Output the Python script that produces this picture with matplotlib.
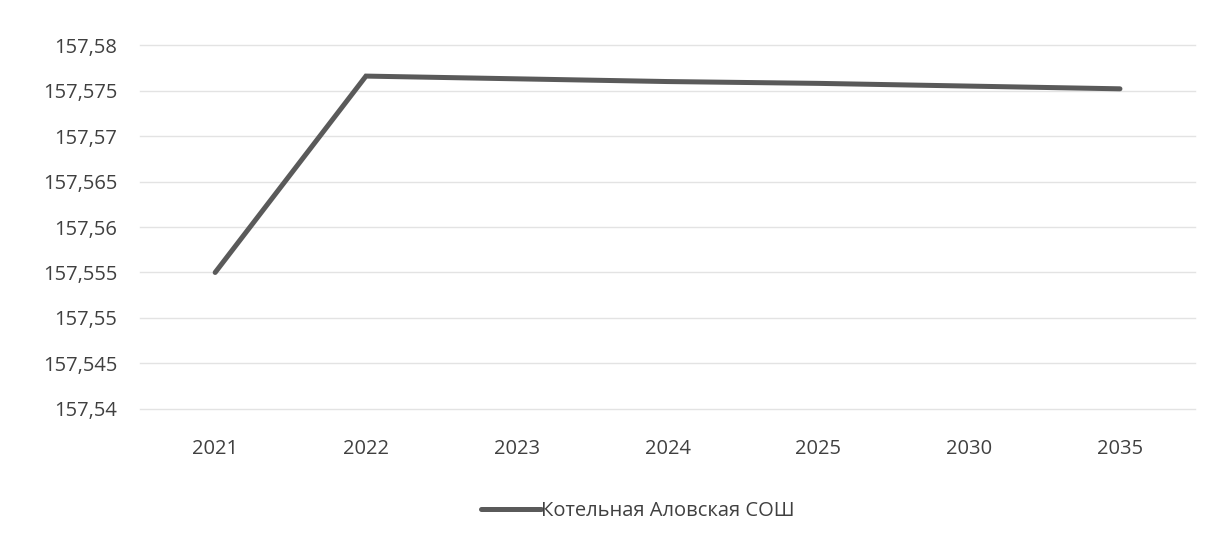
import matplotlib
matplotlib.use("Agg")
import matplotlib.pyplot as plt

years = ["2021", "2022", "2023", "2024", "2025", "2030", "2035"]
values = [157.555, 157.5766, 157.5763, 157.5760, 157.5758, 157.5755, 157.5752]
yticks = [157.54, 157.545, 157.55, 157.555, 157.56, 157.565, 157.57, 157.575, 157.58]
ytick_labels = ["157,54", "157,545", "157,55", "157,555", "157,56", "157,565", "157,57", "157,575", "157,58"]
series_name = "Котельная Аловская СОШ"

plt.rcParams['font.family'] = ['Open Sans', 'DejaVu Sans']
fig = plt.figure(figsize=(12.26, 5.51), dpi=100)
ax = fig.add_axes([0.114, 0.258, 0.861, 0.66])
x = list(range(len(years)))
ax.plot(x, values, color="#5a5a5a", linewidth=3.6, solid_capstyle="round", solid_joinstyle="miter", label=series_name)
ax.set_xlim(-0.5, len(years) - 0.5)
ax.set_ylim(157.54, 157.58)
ax.set_yticks(yticks)
ax.set_yticklabels(ytick_labels)
ax.set_xticks(x)
ax.set_xticklabels(years)
ax.grid(axis="y", color="#e3e3e3", linewidth=1)
for gl in ax.get_ygridlines():
    gl.set_clip_on(False)
ax.set_axisbelow(True)
for s in ax.spines.values():
    s.set_visible(False)
ax.tick_params(length=0, labelsize=14.5, colors="#404040")
ax.tick_params(axis="x", pad=22)
ax.tick_params(axis="y", pad=16)
fig.legend(loc="center", bbox_to_anchor=(0.52, 0.073), frameon=False, fontsize=14.5,
           handlelength=3.0, handletextpad=0.0, labelcolor="#404040")
fig.savefig("out.png", dpi=100, facecolor="white")
